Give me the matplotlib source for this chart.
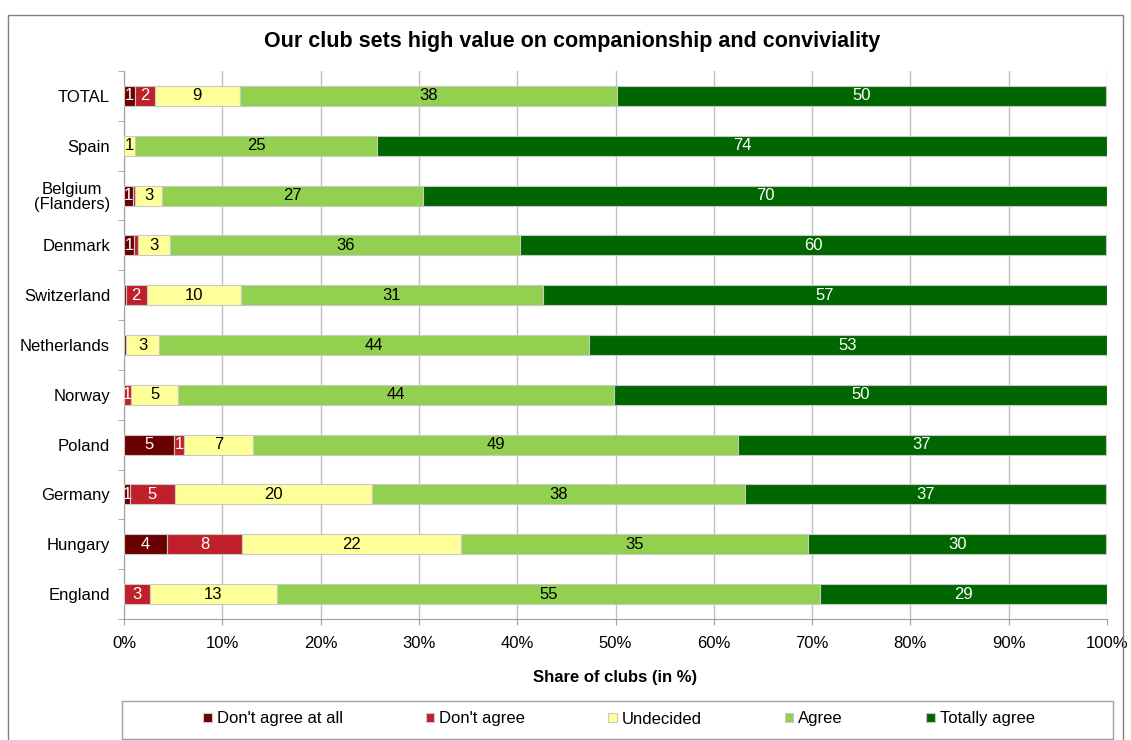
import numpy as np
import matplotlib
matplotlib.use("Agg")
import matplotlib.pyplot as plt
from matplotlib.patches import Rectangle

plt.rcParams['font.family'] = ['Liberation Sans', 'DejaVu Sans']

countries = ["TOTAL", "Spain", "Belgium\n(Flanders)", "Denmark", "Switzerland",
             "Netherlands", "Norway", "Poland", "Germany", "Hungary", "England"]
series = ["Don't agree at all", "Don't agree", "Undecided", "Agree", "Totally agree"]

dont_agree_all = [1.15, 0.0, 0.95, 1.05, 0.2, 0.25, 0.0, 5.05, 0.6, 4.4, 0.0]
dont_agree     = [2.0, 0.0, 0.2, 0.4, 2.1, 0.0, 0.75, 1.1, 4.55, 7.6, 2.6]
undecided      = [8.6, 1.15, 2.7, 3.25, 9.6, 3.3, 4.75, 7.0, 20.1, 22.3, 13.0]
agree          = [38.4, 24.6, 26.6, 35.6, 30.7, 43.8, 44.3, 49.3, 37.9, 35.3, 55.2]
totally_agree  = [49.7, 74.25, 69.5, 59.6, 57.4, 52.6, 50.2, 37.4, 36.7, 30.3, 29.2]

colors = ["#6b0000", "#c0202a", "#ffff99", "#92d050", "#006600"]
text_colors = ["white", "white", "black", "black", "white"]

fig = plt.figure(figsize=(11.31, 7.4), dpi=100)
ax = fig.add_axes([124/1131, 1-619/740, 983/1131, 548/740])

data = [dont_agree_all, dont_agree, undecided, agree, totally_agree]
y = np.arange(len(countries))
left = np.zeros(len(countries))
for vals, name, c, tc in zip(data, series, colors, text_colors):
    vals = np.array(vals)
    ax.barh(y, vals, left=left, height=0.4, color=c, edgecolor="#c8c8c8",
            linewidth=0.8, label=name, zorder=3)
    for yi, (l, v) in enumerate(zip(left, vals)):
        if v >= 0.5:
            ax.text(l + v/2, yi, f"{int(round(v))}", ha="center", va="center",
                    color=tc, fontsize=12, zorder=4)
    left = left + vals

ax.set_xlim(0, 100)
ax.set_ylim(len(countries) - 0.5, -0.5)
ax.set_xticks(np.arange(0, 101, 10))
ax.set_xticklabels([f"{v}%" for v in range(0, 101, 10)], fontsize=12)
ax.set_yticks(y)
ax.set_yticklabels(countries, fontsize=12, multialignment="center", linespacing=1.0)
ax.set_yticks(np.arange(-0.5, len(countries), 1), minor=True)
ax.tick_params(axis="y", which="major", length=0, pad=10)
ax.tick_params(axis="y", which="minor", length=4, color="#a0a0a0")
ax.tick_params(axis="x", length=4, color="#a0a0a0", pad=8)
ax.grid(axis="x", color="#c0c0c0", linewidth=1, zorder=0)
for s in ["top", "right"]:
    ax.spines[s].set_visible(False)
for s in ["left", "bottom"]:
    ax.spines[s].set_color("#a0a0a0")
ax.set_xlabel("Share of clubs (in %)", fontsize=12, fontweight="bold", labelpad=14)

fig.text(572/1131, 1-42/740, "Our club sets high value on companionship and conviviality",
         ha="center", va="center", fontsize=15.5, fontweight="bold")

leg = fig.legend(loc="center", bbox_to_anchor=(619/1131, 1-719/740),
                 ncol=5, fontsize=12, frameon=False,
                 handlelength=0.5, handleheight=0.5, handletextpad=0.3,
                 columnspacing=5.0, borderaxespad=0)
for h in leg.legend_handles:
    h.set_edgecolor("#c8c8c8")

fig.patches.append(Rectangle((122/1131, 1-739/740), 991/1131, 38/740,
                             transform=fig.transFigure, fill=False,
                             edgecolor="#a0a0a0", linewidth=1))
fig.patches.append(Rectangle((8/1131, -0.01), 1115/1131, 1-15/740 + 0.01,
                             transform=fig.transFigure, fill=False,
                             edgecolor="#808080", linewidth=1))

fig.savefig("out.png", dpi=100)
